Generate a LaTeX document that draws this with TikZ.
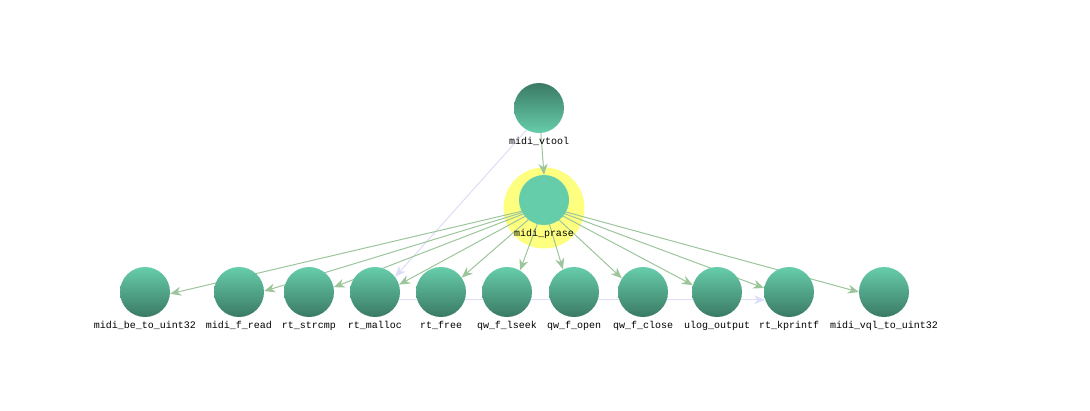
\documentclass[tikz,border=0pt]{standalone}
\usepackage{fontspec}
\setmonofont{Liberation Mono}
\usetikzlibrary{arrows.meta,backgrounds}

\definecolor{fnlight}{HTML}{66CDAA}
\definecolor{fndark}{HTML}{3B7A64}
\definecolor{edgegreen}{HTML}{9CC59C}
\definecolor{edgelav}{HTML}{DDDDF8}
\definecolor{halo}{HTML}{FFFF7F}

\begin{document}
\begin{tikzpicture}[x=1pt,y=-1pt,
  lbl/.style={font=\ttfamily\fontsize{10}{12}\selectfont,label distance=1pt},
  fn/.style={circle,minimum size=50pt,inner sep=0pt,
    top color=fnlight,middle color=fnlight,bottom color=fndark,
    label={[lbl]below:#1}},
  call/.style={draw=edgegreen,line width=1pt,-{Stealth[length=11pt,width=9pt,inset=3.5pt]}},
  weak/.style={draw=edgelav,line width=1pt,-{Stealth[length=11pt,width=9pt,inset=3.5pt]}}]
  \useasboundingbox (0,0) rectangle (1090,410);

  % top
  \node[fn={midi\_vtool},top color=fndark,middle color=fnlight,bottom color=fnlight] (vtool) at (539,108) {};
  \node[circle,minimum size=50pt,inner sep=0pt,fill=fnlight,label={[lbl]below:midi\_prase}] (prase) at (544,200) {};

  % callees
  \foreach \n/\x/\t in {be/145/midi\_be\_to\_uint32, fread/239/midi\_f\_read,
      strcmp/309/rt\_strcmp, malloc/375/rt\_malloc, free/441/rt\_free,
      lseek/507/qw\_f\_lseek, open/574/qw\_f\_open, close/643/qw\_f\_close,
      ulog/717/ulog\_output, kprintf/789/rt\_kprintf, vql/884/midi\_vql\_to\_uint32}
    \node[fn=\t] (\n) at (\x,292) {};

  % edges
  \begin{pgfonlayer}{background}
    \fill[halo] ([yshift=-8pt]prase.center) circle (40.5);
    \draw[weak] ([yshift=-8pt]vtool.center) -- (malloc.37);
    \draw[weak] (malloc.-18) -- (kprintf.198);
    \draw[call] (vtool) -- (prase.north);
    \foreach \n/\a in {be/-4, fread/2, strcmp/11, malloc/17, free/35, lseek/59,
        open/116, close/147, ulog/164, kprintf/171, vql/180}
      \draw[call] ([yshift=-6pt]prase.center) -- (\n.\a);
  \end{pgfonlayer}
\end{tikzpicture}
\end{document}
